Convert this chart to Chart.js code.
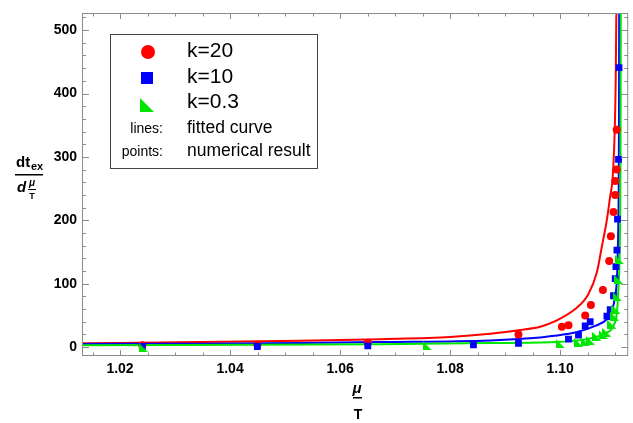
<!DOCTYPE html>
<html>
<head>
<meta charset="utf-8">
<script src="https://cdn.jsdelivr.net/npm/chart.js@4"></script>
<style>
  html, body { margin: 0; padding: 0; background: #fff; }
  #wrap { width: 633px; height: 423px; }
</style>
</head>
<body>
<div id="wrap"><canvas id="chart" width="633" height="423"></canvas></div>
<script>
// axis ticks
const xTicks = [1.02, 1.04, 1.06, 1.08, 1.10];
const xTickLabels = ['1.02', '1.04', '1.06', '1.08', '1.10'];
const yTicks = [0, 100, 200, 300, 400, 500];
const yTickLabels = ['0', '100', '200', '300', '400', '500'];

// fitted curves
const fitX_k20 = [1.01309, 1.034545, 1.052727, 1.067273, 1.08, 1.087273, 1.092727, 1.096364, 1.099091, 1.102727, 1.105091, 1.106673, 1.107582, 1.108491, 1.109091, 1.109509, 1.109873, 1.110091, 1.110218];
const fitY_k20 = [6, 8, 10, 12.6, 16, 21, 27, 32, 41, 60, 83, 118, 159, 201, 238, 264, 330, 420, 540];
const fitX_k10 = [1.01309, 1.034545, 1.052727, 1.067273, 1.087273, 1.096364, 1.099091, 1.102727, 1.106364, 1.108491, 1.1094, 1.11, 1.110309, 1.110491, 1.110618, 1.110691, 1.110727];
const fitY_k10 = [5, 5.5, 6.5, 8, 10.5, 15, 18, 23, 33.5, 44, 57, 81, 107, 159, 230, 350, 540];
const fitX_k03 = [1.01309, 1.067273, 1.087273, 1.099091, 1.105091, 1.108182, 1.109691, 1.110309, 1.110582, 1.110782, 1.110909, 1.110964, 1.111018];
const fitY_k03 = [3, 4.5, 6.5, 8, 13, 22, 33.5, 54.5, 91, 133, 212, 300, 540];

// numerical results
const ptX_k20 = [1.024055, 1.044964, 1.065036, 1.092418, 1.100309, 1.101509, 1.104545, 1.105582, 1.107764, 1.108909, 1.109218, 1.109691, 1.11, 1.11, 1.110273, 1.110273];
const ptY_k20 = [3, 3.6, 7, 20, 32, 34.6, 50, 66.5, 90, 136, 175, 213, 240, 262, 280, 343];
const ptX_k10 = [1.024055, 1.044964, 1.065036, 1.084236, 1.092418, 1.101509, 1.103327, 1.104545, 1.105455, 1.108491, 1.108818, 1.109091, 1.109691, 1.11, 1.110127, 1.110309, 1.110418, 1.1106, 1.110691];
const ptY_k10 = [1, 1, 2, 3.6, 5.8, 12.6, 19, 33.5, 40, 49, 48, 59, 81, 108, 127, 153, 202, 296, 441];
const ptX_k03 = [1.024182, 1.075873, 1.1, 1.103327, 1.104545, 1.105455, 1.106673, 1.107818, 1.108491, 1.1094, 1.109873, 1.110127, 1.110364, 1.1106, 1.110782];
const ptY_k03 = [0, 2, 6, 7.4, 9, 11, 17, 20, 23, 36, 49, 60, 80, 107, 138];

const RED = 'rgb(255,0,0)', BLUE = 'rgb(0,0,255)', GREEN = 'rgb(0,230,0)';

function zip(xs, ys) { return xs.map((x, i) => ({ x: x, y: ys[i] })); }

// right triangle marker (right angle bottom-left)
function triMarker(size) {
  const c = document.createElement('canvas');
  c.width = size; c.height = size;
  const g = c.getContext('2d');
  g.fillStyle = GREEN;
  g.beginPath();
  g.moveTo(0, 0); g.lineTo(0, size); g.lineTo(size, size);
  g.closePath(); g.fill();
  return c;
}
const tri = triMarker(9);

const framePlugin = {
  id: 'frame',
  afterDatasetsDraw(chart) {
    const { ctx, chartArea: a, scales } = chart;
    const xs = scales.x, ys = scales.y;
    ctx.save();
    ctx.strokeStyle = '#8c8c8c';
    ctx.lineWidth = 1;
    ctx.strokeRect(a.left + 0.5, a.top + 0.5, a.right - a.left - 1, a.bottom - a.top - 1);
    ctx.beginPath();
    for (let v = 1.015; v < 1.112; v += 0.005) {
      const px = Math.round(xs.getPixelForValue(v)) + 0.5;
      const major = xTicks.some(t => Math.abs(t - v) < 1e-6);
      const len = major ? 6 : 3.5;
      ctx.moveTo(px, a.bottom); ctx.lineTo(px, a.bottom - len);
      ctx.moveTo(px, a.top); ctx.lineTo(px, a.top + len);
    }
    for (let v = 0; v <= 520; v += 20) {
      const py = Math.round(ys.getPixelForValue(v)) + 0.5;
      const major = v % 100 === 0;
      const len = major ? 7 : 4;
      ctx.moveTo(a.left, py); ctx.lineTo(a.left + len, py);
      ctx.moveTo(a.right, py); ctx.lineTo(a.right - len, py);
    }
    ctx.stroke();
    ctx.restore();
  },
  afterDraw(chart) {
    const ctx = chart.ctx;
    ctx.save();
    // legend box
    ctx.fillStyle = '#fff';
    ctx.fillRect(110, 34, 207, 134);
    ctx.strokeStyle = '#444';
    ctx.lineWidth = 1;
    ctx.strokeRect(110.5, 34.5, 207, 134);
    ctx.fillStyle = RED;
    ctx.beginPath(); ctx.arc(148, 52, 7, 0, Math.PI * 2); ctx.fill();
    ctx.fillStyle = BLUE;
    ctx.fillRect(141, 72, 12, 12);
    ctx.fillStyle = GREEN;
    ctx.beginPath(); ctx.moveTo(140, 98); ctx.lineTo(140, 112); ctx.lineTo(154, 112); ctx.closePath(); ctx.fill();
    ctx.fillStyle = '#000';
    ctx.textBaseline = 'middle';
    ctx.textAlign = 'left';
    ctx.font = '21px "Liberation Sans", Arial, sans-serif';
    ctx.fillText('k=20', 187, 51);
    ctx.fillText('k=10', 187, 77);
    ctx.fillText('k=0.3', 187, 102);
    ctx.font = '17.5px "Liberation Sans", Arial, sans-serif';
    ctx.fillText('fitted curve', 187, 128);
    ctx.fillText('numerical result', 187, 151);
    ctx.textAlign = 'right';
    ctx.font = '14px "Liberation Sans", Arial, sans-serif';
    ctx.fillText('lines:', 163, 129);
    ctx.fillText('points:', 163, 152);

    // x axis title  mu / T
    ctx.textAlign = 'center';
    ctx.font = 'bold italic 15px "Liberation Sans", Arial, sans-serif';
    ctx.fillText('\u03bc', 357, 389);
    ctx.fillRect(353, 397, 9, 1.5);
    ctx.font = 'bold 14px "Liberation Sans", Arial, sans-serif';
    ctx.fillText('T', 358, 415);

    // y axis title  dt_ex / d (mu/T)
    ctx.textAlign = 'left';
    ctx.font = 'bold 15px "Liberation Sans", Arial, sans-serif';
    ctx.fillText('dt', 16, 163);
    ctx.font = 'bold 11px "Liberation Sans", Arial, sans-serif';
    ctx.fillText('ex', 31, 167);
    ctx.fillRect(15, 174, 28, 1.5);
    ctx.font = 'bold italic 15px "Liberation Sans", Arial, sans-serif';
    ctx.fillText('d', 17, 188);
    ctx.font = 'bold italic 10px "Liberation Sans", Arial, sans-serif';
    ctx.textAlign = 'center';
    ctx.fillText('\u03bc', 32, 183);
    ctx.fillRect(28, 189, 8, 1);
    ctx.font = 'bold 9px "Liberation Sans", Arial, sans-serif';
    ctx.fillText('T', 32, 197);
    ctx.restore();
  }
};

const lineDs = (xs, ys, color) => ({
  type: 'line', data: zip(xs, ys), borderColor: color, borderWidth: 2,
  pointRadius: 0, fill: false, cubicInterpolationMode: 'monotone', order: 2
});
const ptDs = (xs, ys, color, style, r) => ({
  type: 'scatter', data: zip(xs, ys), backgroundColor: color, borderWidth: 0,
  pointStyle: style, pointRadius: r, order: 1
});

new Chart(document.getElementById('chart'), {
  type: 'scatter',
  data: {
    datasets: [
      lineDs(fitX_k03, fitY_k03, GREEN),
      lineDs(fitX_k10, fitY_k10, BLUE),
      lineDs(fitX_k20, fitY_k20, RED),
      ptDs(ptX_k03, ptY_k03, GREEN, tri, 4.5),
      ptDs(ptX_k10, ptY_k10, BLUE, 'rect', 4.8),
      ptDs(ptX_k20, ptY_k20, RED, 'circle', 4)
    ]
  },
  options: {
    responsive: false,
    animation: false,
    layout: { padding: { left: 0, right: 2, top: 13, bottom: 0 } },
    plugins: { legend: { display: false }, tooltip: { enabled: false } },
    scales: {
      x: {
        type: 'linear', min: 1.01309, max: 1.112363,
        grid: { display: false, drawTicks: false }, border: { display: false },
        afterBuildTicks: s => { s.ticks = xTicks.map(v => ({ value: v })); },
        afterFit: s => { s.height = 67; s.paddingLeft = 0; s.paddingRight = 0; },
        ticks: {
          padding: 5, color: '#000', maxRotation: 0,
          font: { family: '"Liberation Sans", Arial, sans-serif', size: 14, weight: 'bold' },
          callback: (v) => xTickLabels[xTicks.findIndex(t => Math.abs(t - v) < 1e-6)]
        }
      },
      y: {
        type: 'linear', min: -14, max: 527,
        grid: { display: false, drawTicks: false }, border: { display: false },
        afterBuildTicks: s => { s.ticks = yTicks.map(v => ({ value: v })); },
        afterFit: s => { s.width = 82; s.paddingTop = 0; s.paddingBottom = 0; },
        ticks: {
          padding: 5, color: '#000',
          font: { family: '"Liberation Sans", Arial, sans-serif', size: 14, weight: 'bold' },
          callback: (v) => yTickLabels[yTicks.indexOf(v)]
        }
      }
    }
  },
  plugins: [framePlugin]
});
</script>
</body>
</html>
